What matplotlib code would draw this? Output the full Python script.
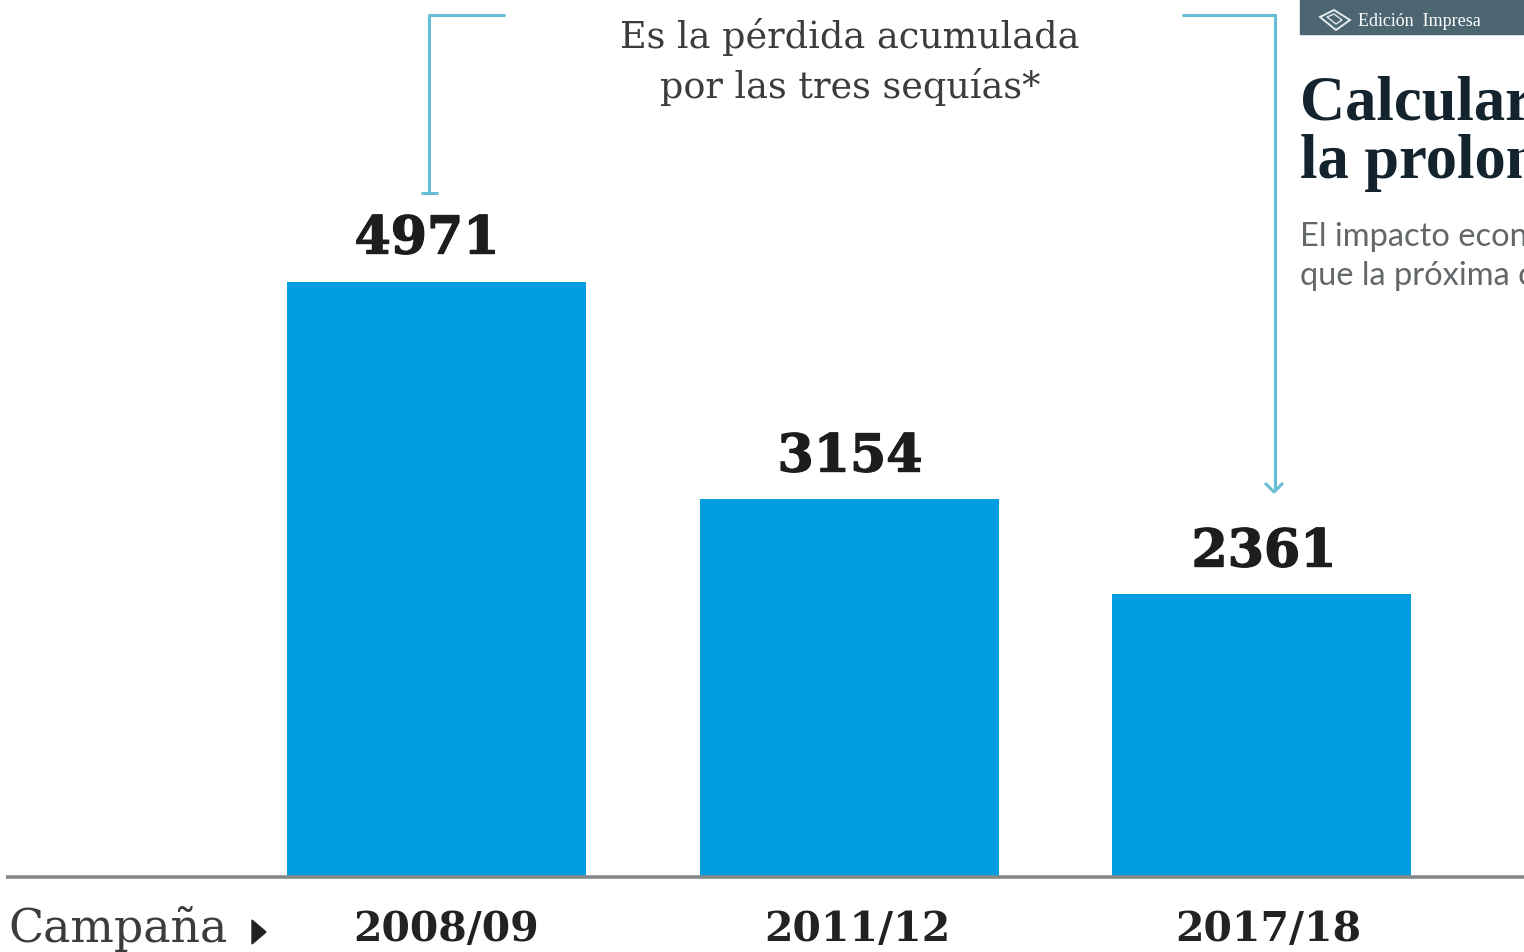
from matplotlib import pyplot as plt
from matplotlib.patches import Rectangle, Polygon
from matplotlib.transforms import Affine2D
import matplotlib.patheffects as pe

campaigns = ['2008/09', '2011/12', '2017/18']
losses = [4971, 3154, 2361]
W, H = 1524, 953
BLUE = '#009ee0'
LINE = '#66bdd4'

fig = plt.figure(figsize=(W / 100, H / 100), dpi=100, facecolor='white')
ax = fig.add_axes([0, 0, 1, 1])
scale = 595 / 4971   # px per unit
ax.set_xlim(-436.5 / 412.5, (W - 436.5) / 412.5)
ax.set_ylim(-(H - 878) / scale, 878 / scale)
ax.axis('off')

xs = list(range(len(campaigns)))
ax.bar(xs, losses, width=299 / 412.5, color=BLUE, zorder=2)

# overlay in pixel coords, y going down like the picture
px = Affine2D().scale(1 / W, -1 / H).translate(0, 1) + fig.transFigure


def line(x, y, color=LINE, lw=2.2):
    ax.plot(x, y, color=color, lw=lw, transform=px, solid_capstyle='butt', zorder=3, clip_on=False)


def txt(x, y, s, **kw):
    ax.text(x, y, s, transform=px, **kw)


line([6, W], [878, 878], color='#85888a', lw=2.6)

heavy = [pe.withStroke(linewidth=1.0, foreground='#1d1d1b')]
value_x = [427, 850, 1264]
value_y = [240, 458, 553]
for v, x, y in zip(losses, value_x, value_y):
    txt(x, y, str(v), ha='center', va='center', family='DejaVu Serif', weight='bold', fontsize=37.5,
        color='#1d1d1b', path_effects=heavy)

label_x = [446, 857, 1268]
for c, x in zip(campaigns, label_x):
    txt(x, 930, c, ha='center', va='center', family='DejaVu Serif', weight='bold', fontsize=29.5, color='#222222')

txt(8, 929, 'Campaña', ha='left', va='center', family='DejaVu Serif', fontsize=33, color='#3c3c3b')
ax.add_patch(Polygon([[252, 921], [252, 945], [266, 933]], closed=True, color='#222222', transform=px))

txt(850, 37, 'Es la pérdida acumulada', ha='center', va='center', family='DejaVu Serif', fontsize=26.3, color='#3c3c3b')
txt(850, 87, 'por las tres sequías*', ha='center', va='center', family='DejaVu Serif', fontsize=26.3, color='#3c3c3b')

# bracket lines
line([505, 429, 429], [16, 16, 194])
line([421, 438], [194, 194])
line([1182, 1275, 1275], [16, 16, 490])
line([1265, 1274, 1283], [484, 493, 484])

# page furniture on the right
ax.add_patch(Rectangle((1300, 1), 224, 34, color='#4b6671', transform=px, zorder=3))
ax.add_patch(Polygon([[1320, 18], [1334, 11], [1350, 21], [1336, 31]], closed=True, fill=False, ec='#e4eaec', lw=1.4,
                     transform=px, zorder=4))
ax.add_patch(Polygon([[1327, 18], [1334, 15], [1342, 21], [1336, 25]], closed=True, fill=False, ec='#e4eaec', lw=1,
                     transform=px, zorder=4))
txt(1358, 21, 'Edición  Impresa', ha='left', va='center', family='Liberation Serif', fontsize=13, color='white', zorder=4)
txt(1300, 105, 'Calcular', ha='left', va='center', family='Liberation Serif', weight='bold', fontsize=45, color='#14242e', clip_on=True)
txt(1300, 163, 'la prolon', ha='left', va='center', family='Liberation Serif', weight='bold', fontsize=45, color='#14242e', clip_on=True)
txt(1300, 237, 'El impacto econ', ha='left', va='center', family='Lato', fontsize=23.5, color='#62676a', clip_on=True)
txt(1300, 276, 'que la próxima c', ha='left', va='center', family='Lato', fontsize=23.5, color='#62676a', clip_on=True)

fig.savefig('out.png', dpi=100, facecolor='white')
